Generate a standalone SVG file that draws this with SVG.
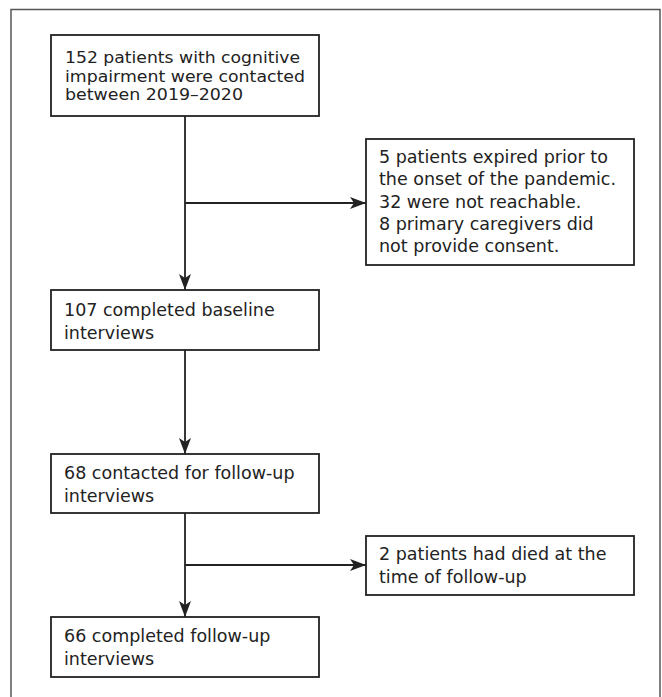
<svg xmlns="http://www.w3.org/2000/svg" width="662" height="697" viewBox="0 0 662 697">
<style>
.frame{fill:none;stroke:#555;stroke-width:1.5}
.box{fill:#fff;stroke:#222;stroke-width:1.8}
.t{font-family:"DejaVu Sans","Open Sans",sans-serif;font-size:17.5px;fill:#222}
.t1{font-family:"DejaVu Sans","Open Sans",sans-serif;font-size:16.5px;fill:#222}
.c{fill:none;stroke:#222;stroke-width:1.8}
</style>
<defs>
<marker id="ah" viewBox="0 0 16 12" refX="16" refY="6" markerWidth="16" markerHeight="12" markerUnits="userSpaceOnUse" orient="auto">
<path d="M0,0 L16,6 L0,12 L4,6 z" fill="#222"/>
</marker>
</defs>
<path class="frame" d="M11,697 V9.5 H660 V697"/>
<g id="connectors">
<line class="c" x1="185" y1="116" x2="185" y2="290" marker-end="url(#ah)"/>
<line class="c" x1="185" y1="203" x2="366" y2="203" marker-end="url(#ah)"/>
<line class="c" x1="185" y1="350" x2="185" y2="454" marker-end="url(#ah)"/>
<line class="c" x1="185" y1="513" x2="185" y2="617" marker-end="url(#ah)"/>
<line class="c" x1="185" y1="565" x2="366" y2="565" marker-end="url(#ah)"/>
</g>
<g id="n1">
<rect class="box" x="51" y="35" width="268" height="81"/>
<text class="t1" x="65" y="63" textLength="235" lengthAdjust="spacingAndGlyphs">152 patients with cognitive</text>
<text class="t1" x="65" y="81.5" textLength="240" lengthAdjust="spacingAndGlyphs">impairment were contacted</text>
<text class="t1" x="65" y="100" textLength="178" lengthAdjust="spacingAndGlyphs">between 2019–2020</text>
</g>
<g id="n2">
<rect class="box" x="366" y="139" width="268" height="126"/>
<text class="t" x="379" y="163">5 patients expired prior to</text>
<text class="t" x="379" y="185.25">the onset of the pandemic.</text>
<text class="t" x="379" y="207.5">32 were not reachable.</text>
<text class="t" x="379" y="229.75">8 primary caregivers did</text>
<text class="t" x="379" y="252">not provide consent.</text>
</g>
<g id="n3">
<rect class="box" x="51" y="290" width="268" height="60"/>
<text class="t" x="64" y="316">107 completed baseline</text>
<text class="t" x="64" y="339">interviews</text>
</g>
<g id="n4">
<rect class="box" x="51" y="454" width="268" height="59"/>
<text class="t" x="64" y="479">68 contacted for follow-up</text>
<text class="t" x="64" y="502">interviews</text>
</g>
<g id="n5">
<rect class="box" x="366" y="536" width="268" height="59"/>
<text class="t" x="379" y="560">2 patients had died at the</text>
<text class="t" x="379" y="583">time of follow-up</text>
</g>
<g id="n6">
<rect class="box" x="51" y="617" width="268" height="60"/>
<text class="t" x="64" y="642">66 completed follow-up</text>
<text class="t" x="64" y="665">interviews</text>
</g>
</svg>
